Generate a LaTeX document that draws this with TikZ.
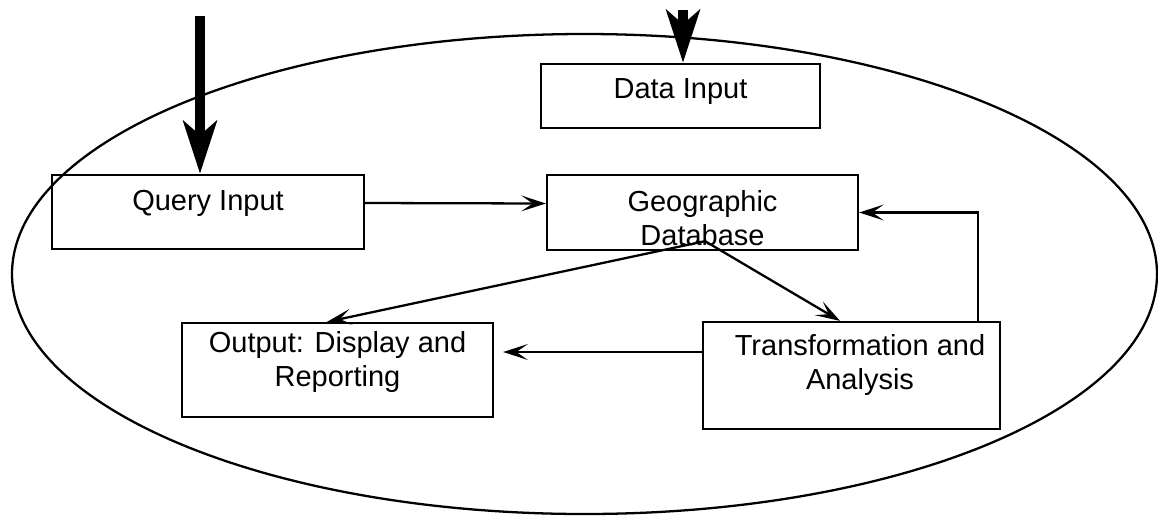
\documentclass[tikz,border=0pt]{standalone}
\usepackage{fontspec}
\setmainfont{Liberation Sans}
\usetikzlibrary{arrows.meta}

\begin{document}
\begin{tikzpicture}[
  box/.style={draw, line width=1.3pt, inner sep=0pt},
  txt/.style={align=center, font=\fontsize{16.5}{19.3}\selectfont},
  conn/.style={line width=1.3pt, -{Stealth[length=14pt,width=9pt,inset=6.5pt]}},
  bigarrow/.style={line width=5.7pt, -{Stealth[length=30pt,width=19pt,inset=8pt]}}
]
\useasboundingbox (0,0) rectangle (23.16,-10.3);
\draw[line width=1.3pt] (11.69,-5.48) ellipse [x radius=11.45, y radius=4.8];

\node[box, minimum width=5.58cm, minimum height=1.28cm] (data) at (13.61,-1.92) {};
\node[box, minimum width=6.24cm, minimum height=1.48cm] (query) at (4.16,-4.24) {};
\node[box, minimum width=6.22cm, minimum height=1.50cm] (geo) at (14.05,-4.25) {};
\node[box, minimum width=6.22cm, minimum height=1.88cm] (out) at (6.75,-7.40) {};
\node[box, minimum width=5.94cm, minimum height=2.14cm] (trans) at (17.03,-7.51) {};

\node[txt] (data-t) at (13.61,-1.84) {Data Input};
\node[txt] (query-t) at (4.16,-4.06) {Query Input};
\node[txt] (geo-t) at (14.05,-4.36) {Geographic\\Database};
\node[txt] (out-t) at (6.75,-7.24) {Output: Display and\\Reporting};
\node[txt] (trans-t) at (17.20,-7.30) {Transformation and\\Analysis};

% inputs coming from outside the system
\coordinate (qin) at (4.0,-0.32);
\coordinate (din) at (13.66,-0.2);
\draw[bigarrow] (qin) -- (qin |- query.north);
\draw[bigarrow] (din) -- (din |- data.north);

\coordinate (gsrc) at ([xshift=0.05cm,yshift=0.2cm]geo.south);
\draw[conn] ([yshift=0.18cm]query.east) -- ([yshift=0.18cm]geo.west);
\draw[conn] (gsrc) -- ([xshift=-0.21cm]out.north);
\draw[conn] (gsrc) -- ([xshift=-0.23cm]trans.north);
\draw[conn] ([xshift=2.53cm]trans.north) |- (geo.east);
\draw[conn, shorten >=0.18cm] ([yshift=0.47cm]trans.west) -- ([yshift=0.47cm]trans.west -| out.east);
\end{tikzpicture}
\end{document}
